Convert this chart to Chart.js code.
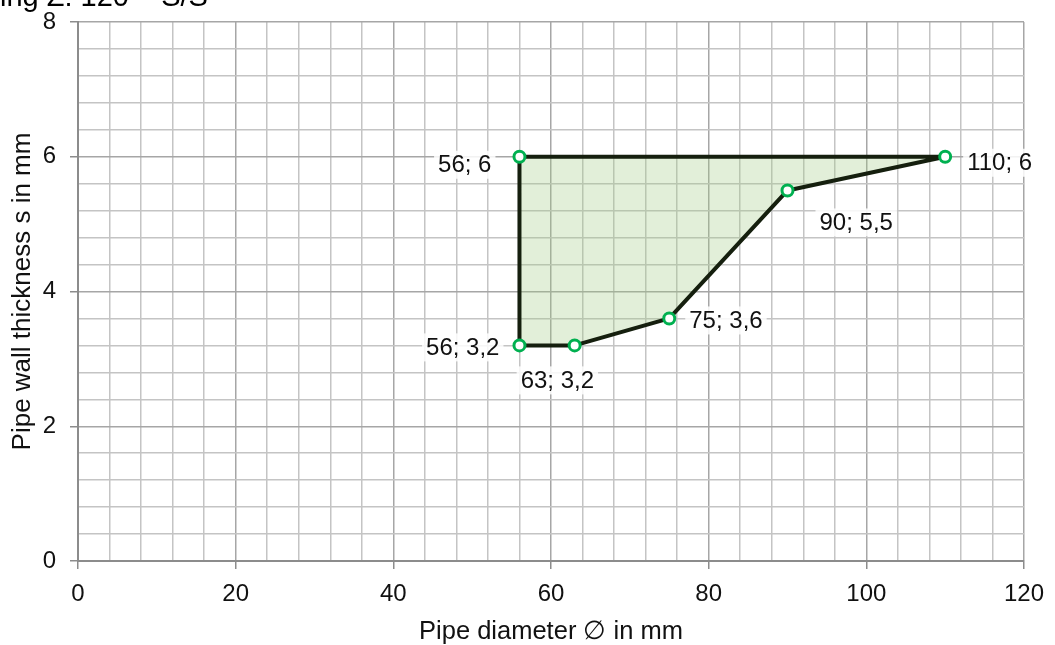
<!DOCTYPE html>
<html>
<head>
<meta charset="utf-8">
<script src="https://cdn.jsdelivr.net/npm/chart.js@4"></script>
<style>
  body { margin: 0; background: #fff; overflow: hidden; }
  #wrap { position: relative; width: 1055px; height: 645px; }
  #title {
    position: absolute; left: 0; top: -20px;
    font: 29px "Liberation Sans", Arial, sans-serif; color: #000;
    white-space: nowrap;
  }
</style>
</head>
<body>
<div id="wrap">
  <canvas id="chart" width="1055" height="645"></canvas>
  <div id="title">ing Z: 120 – S/S</div>
</div>
<script>
// outline of the allowed range, walked round in order
const diameters = [56, 56, 110, 90, 75, 63, 56];
const thicknesses = [3.2, 6, 6, 5.5, 3.6, 3.2, 3.2];
const pointLabels = ["56; 3,2", "56; 6", "110; 6", "90; 5,5", "75; 3,6", "63; 3,2"];

const xTicks = [0, 20, 40, 60, 80, 100, 120];
const yTicks = [0, 2, 4, 6, 8];

const font = "Liberation Sans, Arial, sans-serif";

const shape = diameters.map((d, i) => ({ x: d, y: thicknesses[i] }));
const points = shape.slice(0, pointLabels.length);

// where each label sits relative to its point: [dx, dy, align]
const labelPos = [
  [-20, 2, "right"],
  [-28, 8, "right"],
  [22, 6, "left"],
  [32, 32, "left"],
  [20, 2, "left"],
  [-54, 35, "left"],
];

const labelPlugin = {
  id: "pointLabels",
  afterDatasetsDraw(chart) {
    const ctx = chart.ctx;
    const xs = chart.scales.x;
    const ys = chart.scales.y;
    ctx.save();
    ctx.font = "24px " + font;
    ctx.textBaseline = "middle";
    points.forEach((p, i) => {
      const [dx, dy, align] = labelPos[i];
      const px = xs.getPixelForValue(p.x) + dx;
      const py = ys.getPixelForValue(p.y) + dy;
      const w = ctx.measureText(pointLabels[i]).width;
      const left = align === "right" ? px - w : px;
      ctx.fillStyle = "rgba(255,255,255,0.85)";
      ctx.fillRect(left - 4, py - 14, w + 8, 28);
      ctx.fillStyle = "#111";
      ctx.textAlign = "left";
      ctx.fillText(pointLabels[i], left, py + 1);
    });
    ctx.restore();
  },
};

function gridColor(v, step) {
  if (v === 0) return "#8c8c8c";
  return Math.abs(v % step) < 1e-6 ? "#a6a6a6" : "#c4c4c4";
}

const round1 = (v) => Math.round(v * 10) / 10;

new Chart(document.getElementById("chart"), {
  type: "scatter",
  data: {
    datasets: [
      {
        data: shape,
        showLine: true,
        fill: "shape",
        backgroundColor: "rgba(158,202,128,0.3)",
        borderColor: "#151f0e",
        borderWidth: 4,
        borderJoinStyle: "round",
        pointRadius: 0,
        tension: 0,
        order: 2,
      },
      {
        data: points,
        showLine: false,
        pointRadius: 5.5,
        pointBorderWidth: 3,
        pointBackgroundColor: "#fff",
        pointBorderColor: "#00b050",
        order: 1,
      },
    ],
  },
  options: {
    responsive: false,
    animation: false,
    layout: { padding: { top: 22, right: 31, left: 0, bottom: 0 } },
    plugins: { legend: { display: false }, tooltip: { enabled: false } },
    scales: {
      x: {
        min: 0,
        max: 120,
        afterFit: (s) => {
          s.height = 84;
          s.paddingLeft = 0;
          s.paddingRight = 0;
        },
        ticks: {
          stepSize: 4,
          autoSkip: false,
          maxRotation: 0,
          color: "#111",
          font: { size: 24, family: font },
          padding: 11,
          callback: (v) => (xTicks.includes(v) ? v : ""),
        },
        grid: {
          color: (c) => gridColor(c.tick ? c.tick.value : 0, 20),
          lineWidth: 1.5,
          tickLength: 8,
          tickColor: (c) => (c.tick && xTicks.includes(c.tick.value) ? "#8c8c8c" : "rgba(0,0,0,0)"),
        },
        border: { color: "#8c8c8c", width: 2 },
        title: {
          display: true,
          text: "Pipe diameter ∅ in mm",
          color: "#111",
          font: { size: 25.5, family: font, lineHeight: 1.05 },
          padding: { top: 6, bottom: 0 },
        },
      },
      y: {
        min: 0,
        max: 8,
        afterFit: (s) => {
          s.width = 78;
          s.paddingTop = 0;
          s.paddingBottom = 0;
        },
        ticks: {
          stepSize: 0.4,
          autoSkip: false,
          color: "#111",
          font: { size: 24, family: font },
          padding: 14,
          callback: (v) => (yTicks.includes(round1(v)) ? round1(v) : ""),
        },
        grid: {
          color: (c) => gridColor(c.tick ? round1(c.tick.value) : 0, 2),
          lineWidth: 1.5,
          tickLength: 8,
          tickColor: (c) => (c.tick && yTicks.includes(round1(c.tick.value)) ? "#8c8c8c" : "rgba(0,0,0,0)"),
        },
        border: { color: "#8c8c8c", width: 2 },
        title: {
          display: true,
          text: "Pipe wall thickness s in mm",
          color: "#111",
          font: { size: 26, family: font, lineHeight: 1.05 },
          padding: { top: 9, bottom: 0 },
        },
      },
    },
  },
  plugins: [labelPlugin],
});
</script>
</body>
</html>
